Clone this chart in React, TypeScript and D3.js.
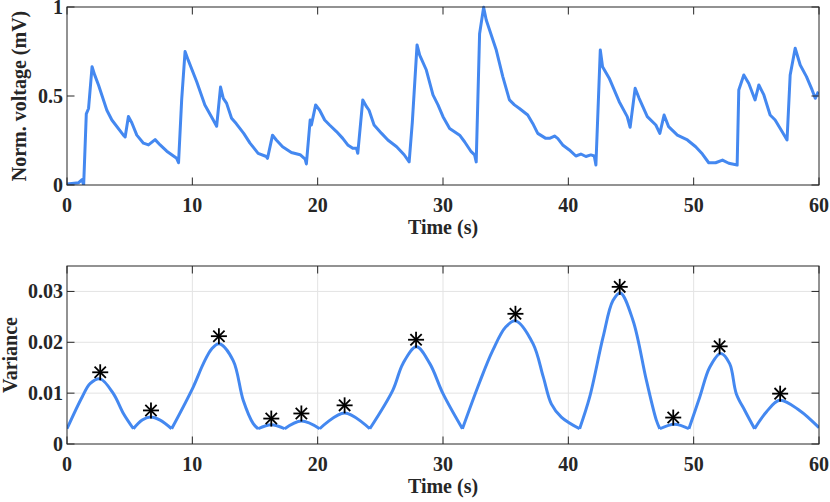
import { scaleLinear, line, curveCatmullRom, curveLinear } from "d3";

const timeTicks = [0, 10, 20, 30, 40, 50, 60];
const voltageTicks = [0, 0.5, 1];
const varianceTicks = [0, 0.01, 0.02, 0.03];

const voltageTime = [
  0, 0.93, 1.2, 1.33, 1.54, 1.72, 2.0, 2.2, 2.52, 3.18, 3.58, 4.5, 4.64, 4.9, 5.17, 5.57, 6.1, 6.5, 7.03, 7.43,
  7.96, 8.75, 8.9, 9.15, 9.42, 9.68, 10.35, 11.0, 11.67, 11.94, 12.25, 12.47, 12.73, 13.13, 13.5, 14.1, 14.6,
  15.25, 15.9, 16.0, 16.4, 16.7, 17.2, 17.9, 18.6, 19.0, 19.1, 19.4, 19.5, 19.84, 20.16, 20.56, 20.95, 21.5,
  22.0, 22.4, 22.8, 23.1, 23.2, 23.6, 23.9, 24.1, 24.5, 25.1, 25.6, 26.3, 26.9, 27.3, 27.55, 27.93, 28.14, 28.67,
  29.2, 29.6, 30.0, 30.53, 31.33, 31.72, 32.25, 32.52, 32.65, 32.92, 33.24, 33.45, 34.25, 34.77, 35.3, 35.7,
  36.1, 36.76, 37.16, 37.56, 38.2, 38.5, 38.9, 39.15, 39.55, 40.08, 40.6, 41.0, 41.4, 41.8, 42.07, 42.2, 42.55,
  42.73, 43.26, 44.06, 44.7, 44.93, 45.33, 45.65, 46.3, 46.98, 47.3, 47.64, 48.0, 48.7, 49.5, 50.16, 50.7, 51.2,
  51.75, 52.3, 52.8, 53.47, 53.6, 54.0, 54.4, 54.9, 55.2, 55.6, 56.1, 56.5, 57.05, 57.45, 57.7, 58.1, 58.5, 59.0,
  59.45, 59.7, 59.95,
];
const voltageValue = [
  0.005, 0.013, 0.03, 0.0, 0.4, 0.43, 0.665, 0.62, 0.56, 0.42, 0.365, 0.28, 0.27, 0.385, 0.35, 0.28, 0.235, 0.225,
  0.255, 0.225, 0.19, 0.15, 0.125, 0.48, 0.75, 0.7, 0.58, 0.45, 0.365, 0.33, 0.55, 0.487, 0.46, 0.375, 0.345,
  0.29, 0.235, 0.178, 0.16, 0.15, 0.28, 0.253, 0.215, 0.183, 0.17, 0.145, 0.118, 0.365, 0.337, 0.45, 0.42, 0.365,
  0.337, 0.3, 0.262, 0.225, 0.206, 0.206, 0.178, 0.478, 0.44, 0.42, 0.337, 0.29, 0.253, 0.215, 0.17, 0.13, 0.35,
  0.787, 0.73, 0.646, 0.506, 0.45, 0.384, 0.318, 0.28, 0.243, 0.187, 0.169, 0.13, 0.85, 0.998, 0.927, 0.758,
  0.609, 0.478, 0.45, 0.43, 0.393, 0.346, 0.29, 0.262, 0.262, 0.275, 0.262, 0.225, 0.197, 0.163, 0.174, 0.16,
  0.169, 0.163, 0.112, 0.758, 0.665, 0.6, 0.468, 0.384, 0.324, 0.543, 0.487, 0.384, 0.337, 0.29, 0.393, 0.328,
  0.28, 0.253, 0.215, 0.174, 0.125, 0.125, 0.14, 0.122, 0.112, 0.534, 0.618, 0.57, 0.478, 0.562, 0.506, 0.393,
  0.365, 0.3, 0.253, 0.618, 0.768, 0.674, 0.609, 0.534, 0.487, 0.524,
];

const varianceTime = [
  0, 1.2, 1.86, 2.65, 3.7, 4.5, 5.3, 6.0, 6.63, 7.43, 8.35, 10.07, 10.88, 11.54, 12.15, 13.26, 14.06, 14.86, 15.25,
  16.3, 17.37, 18.7, 20.16, 22.15, 24.16, 26.0, 26.8, 27.88, 28.95, 30.0, 31.55, 32.93, 33.97, 35.0, 35.8, 37.19,
  38.0, 38.64, 39.44, 40.9, 41.7, 42.77, 43.56, 44.15, 45.16, 46.23, 47.02, 47.3, 48.48, 49.62, 50.48, 51.28,
  52.15, 52.87, 53.4, 54.1, 54.86, 55.8, 56.86, 58.45, 60,
];
const varianceValue = [
  0.003, 0.0092, 0.0119, 0.0128, 0.0099, 0.006, 0.003, 0.0047, 0.0053, 0.0047, 0.003, 0.0112, 0.0158, 0.0187,
  0.0197, 0.0164, 0.0086, 0.004, 0.003, 0.0038, 0.003, 0.0045, 0.003, 0.0061, 0.003, 0.0106, 0.0158, 0.0191,
  0.0158, 0.0099, 0.003, 0.0122, 0.0184, 0.023, 0.0242, 0.0197, 0.0132, 0.0079, 0.0053, 0.003, 0.0092, 0.021,
  0.0282, 0.0297, 0.0243, 0.0125, 0.0047, 0.003, 0.0039, 0.003, 0.0092, 0.0151, 0.0178, 0.0158, 0.0099, 0.0065,
  0.003, 0.0063, 0.0086, 0.0066, 0.0032,
];

const peakTime = [2.65, 6.7, 12.12, 16.3, 18.7, 22.15, 27.85, 35.78, 44.1, 48.37, 52.07, 56.9];
const peakValue = [0.0141, 0.0066, 0.0212, 0.005, 0.006, 0.0076, 0.0205, 0.0256, 0.0309, 0.0052, 0.0192, 0.0099];

const WIDTH = 830;
const HEIGHT = 502;
const LEFT = 67;
const RIGHT = 819;
const TOP_PANEL = { top: 7, bottom: 185 };
const BOTTOM_PANEL = { top: 266, bottom: 444 };
const BLUE = "#4488f0";
const AXIS = "#262626";
const FONT = "'Liberation Serif', 'Times New Roman', serif";
const TICK = 7.5;

type Pt = [number, number];

function Panel({
  yDomain,
  yTicks,
  yFormat,
  top,
  bottom,
  ylabel,
  ylabelX,
  grid,
  children,
}: {
  yDomain: [number, number];
  yTicks: number[];
  yFormat: (v: number) => string;
  top: number;
  bottom: number;
  ylabel: string;
  ylabelX: number;
  grid: boolean;
  children: (x: (v: number) => number, y: (v: number) => number) => React.ReactNode;
}) {
  const x = scaleLinear().domain([0, 60]).range([LEFT, RIGHT]);
  const y = scaleLinear().domain(yDomain).range([bottom, top]);
  const clipId = `clip-${top}`;

  return (
    <g>
      <clipPath id={clipId}>
        <rect x={LEFT} y={top - 2} width={RIGHT - LEFT} height={bottom - top + 2} />
      </clipPath>
      {grid && (
        <g stroke="#e3e3e3" strokeWidth={1}>
          {timeTicks.slice(1, -1).map((t) => (
            <line key={t} x1={x(t)} x2={x(t)} y1={top} y2={bottom} />
          ))}
          {yTicks.slice(1).map((t) => (
            <line key={t} x1={LEFT} x2={RIGHT} y1={y(t)} y2={y(t)} />
          ))}
        </g>
      )}
      <g clipPath={`url(#${clipId})`}>{children(x, y)}</g>
      {/* box + inward ticks */}
      <rect x={LEFT} y={top} width={RIGHT - LEFT} height={bottom - top} fill="none" stroke={AXIS} strokeWidth={1} />
      <g stroke={AXIS} strokeWidth={1}>
        {timeTicks.map((t) => (
          <g key={t}>
            <line x1={x(t)} x2={x(t)} y1={bottom} y2={bottom - TICK} />
            <line x1={x(t)} x2={x(t)} y1={top} y2={top + TICK} />
          </g>
        ))}
        {yTicks.map((t) => (
          <g key={t}>
            <line x1={LEFT} x2={LEFT + TICK} y1={y(t)} y2={y(t)} />
            <line x1={RIGHT} x2={RIGHT - TICK} y1={y(t)} y2={y(t)} />
          </g>
        ))}
      </g>
      <g fontFamily={FONT} fontWeight="bold" fontSize={20} fill={AXIS}>
        {timeTicks.map((t) => (
          <text key={t} x={x(t)} y={bottom + 27} textAnchor="middle">
            {t}
          </text>
        ))}
        {yTicks.map((t) => (
          <text key={t} x={LEFT - 4} y={y(t)} dy="0.34em" textAnchor="end">
            {yFormat(t)}
          </text>
        ))}
        <text x={(LEFT + RIGHT) / 2} y={bottom + 49} textAnchor="middle">
          Time (s)
        </text>
        <text
          transform={`translate(${ylabelX},${(top + bottom) / 2}) rotate(-90)`}
          textAnchor="middle"
        >
          {ylabel}
        </text>
      </g>
    </g>
  );
}

function Star({ cx, cy, r }: { cx: number; cy: number; r: number }) {
  const d = r * Math.SQRT1_2;
  return (
    <g stroke="#000" strokeWidth={1.8}>
      <line x1={cx - r} x2={cx + r} y1={cy} y2={cy} />
      <line x1={cx} x2={cx} y1={cy - r} y2={cy + r} />
      <line x1={cx - d} x2={cx + d} y1={cy - d} y2={cy + d} />
      <line x1={cx - d} x2={cx + d} y1={cy + d} y2={cy - d} />
    </g>
  );
}

export default function App() {
  const voltage: Pt[] = voltageTime.map((t, i) => [t, voltageValue[i]]);
  const variance: Pt[] = varianceTime.map((t, i) => [t, varianceValue[i]]);

  // split the variance curve at its troughs so each bump is smooth but the troughs stay sharp
  const bumps: Pt[][] = [];
  let current: Pt[] = [variance[0]];
  for (let i = 1; i < variance.length; i++) {
    current.push(variance[i]);
    const isTrough =
      i < variance.length - 1 && variance[i][1] <= variance[i - 1][1] && variance[i][1] <= variance[i + 1][1];
    if (isTrough) {
      bumps.push(current);
      current = [variance[i]];
    }
  }
  if (current.length > 1) bumps.push(current);

  return (
    <svg width={WIDTH} height={HEIGHT} style={{ position: "absolute", left: 0, top: 0, background: "#fff" }}>
      <Panel
        yDomain={[0, 1]}
        yTicks={voltageTicks}
        yFormat={(v) => String(v)}
        top={TOP_PANEL.top}
        bottom={TOP_PANEL.bottom}
        ylabel="Norm. voltage (mV)"
        ylabelX={26}
        grid={false}
      >
        {(x, y) => {
          const path = line<Pt>()
            .x((d) => x(d[0]))
            .y((d) => y(d[1]))
            .curve(curveLinear);
          return (
            <path d={path(voltage) ?? ""} fill="none" stroke={BLUE} strokeWidth={3} strokeLinejoin="round" />
          );
        }}
      </Panel>
      <Panel
        yDomain={[0, 0.035]}
        yTicks={varianceTicks}
        yFormat={(v) => (v === 0 ? "0" : v.toFixed(2))}
        top={BOTTOM_PANEL.top}
        bottom={BOTTOM_PANEL.bottom}
        ylabel="Variance"
        ylabelX={17}
        grid={true}
      >
        {(x, y) => {
          const path = line<Pt>()
            .x((d) => x(d[0]))
            .y((d) => y(d[1]))
            .curve(curveCatmullRom.alpha(0.5));
          return (
            <g>
              <path
                d={bumps.map((b) => path(b) ?? "").join("")}
                fill="none"
                stroke={BLUE}
                strokeWidth={3}
                strokeLinejoin="round"
              />
              {peakTime.map((t, i) => (
                <Star key={i} cx={x(t)} cy={y(peakValue[i])} r={8} />
              ))}
            </g>
          );
        }}
      </Panel>
    </svg>
  );
}
